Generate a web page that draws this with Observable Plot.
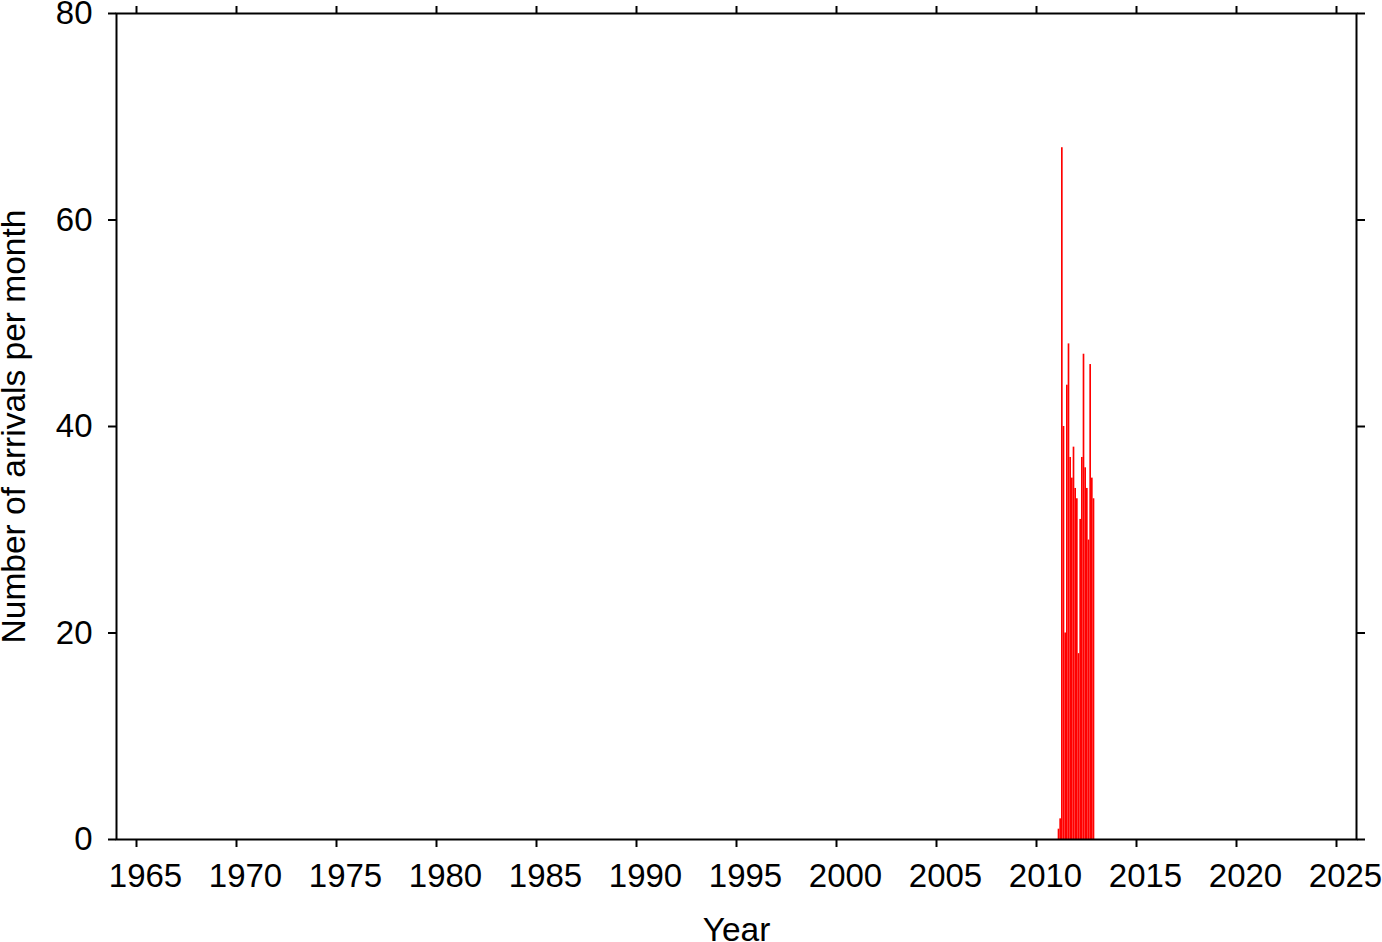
<!DOCTYPE html>
<html>
<head>
<meta charset="utf-8">
<script src="https://cdn.jsdelivr.net/npm/d3@7"></script>
<script src="https://cdn.jsdelivr.net/npm/@observablehq/plot@0.6"></script>
<style>
  html, body { margin: 0; padding: 0; background: #fff; }
  #chart { width: 1382px; height: 942px; }
  #chart svg { overflow: visible; }
</style>
</head>
<body>
<div id="chart"></div>
<script>
// Monthly arrival counts, starting Feb 2011
const startYear = 2011;
const startMonth = 2; // February
const counts = [1, 2, 67, 40, 20, 44, 48, 37, 35, 38, 34, 33, 18, 31, 37, 47, 36, 34, 29, 46, 35, 33];
const yearTicks = [1965, 1970, 1975, 1980, 1985, 1990, 1995, 2000, 2005, 2010, 2015, 2020, 2025];
const countTicks = [0, 20, 40, 60, 80];
const xLabel = "Year";
const yLabel = "Number of arrivals per month";

const data = counts.map((c, i) => {
  const m = startMonth - 1 + i;
  return { x1: startYear + m / 12, x2: startYear + (m + 1) / 12, count: c };
});

const font = "'Liberation Sans', Arial, Helvetica, sans-serif";

const chart = Plot.plot({
  width: 1382,
  height: 942,
  marginLeft: 116,
  marginRight: 26,
  marginTop: 13,
  marginBottom: 103,
  style: { fontFamily: font, fontSize: "33px", color: "black", background: "white", overflow: "visible" },
  x: { domain: [1964, 2026] },
  y: { domain: [0, 80] },
  marks: [
    Plot.rectY(data, { x1: "x1", x2: "x2", y: "count", fill: "#ff0000" }),
    Plot.axisX({ anchor: "bottom", ticks: yearTicks, tickSize: 8, strokeWidth: 2, tickFormat: () => "", label: null }),
    Plot.axisX({ anchor: "bottom", ticks: yearTicks, tickSize: 0, tickPadding: 24, dx: 9, tickFormat: d => String(d), label: null, fontSize: 33 }),
    Plot.axisX({ anchor: "top", ticks: yearTicks, tickSize: 8, strokeWidth: 2, tickFormat: () => "", label: null }),
    Plot.axisY({ anchor: "left", ticks: countTicks, tickSize: 8, tickPadding: 16, strokeWidth: 2, tickFormat: d => String(d), label: null, fontSize: 33 }),
    Plot.axisY({ anchor: "right", ticks: countTicks, tickSize: 8, strokeWidth: 2, tickFormat: () => "", label: null }),
    Plot.frame({ stroke: "black", strokeWidth: 2 }),
    Plot.text([xLabel], { frameAnchor: "bottom", dy: 101, fontSize: 33.5, fill: "black", textAnchor: "middle" }),
    Plot.text([yLabel], { frameAnchor: "left", dx: -102, rotate: -90, fontSize: 33.5, fill: "black", textAnchor: "middle" })
  ]
});
document.getElementById("chart").appendChild(chart);
</script>
</body>
</html>
